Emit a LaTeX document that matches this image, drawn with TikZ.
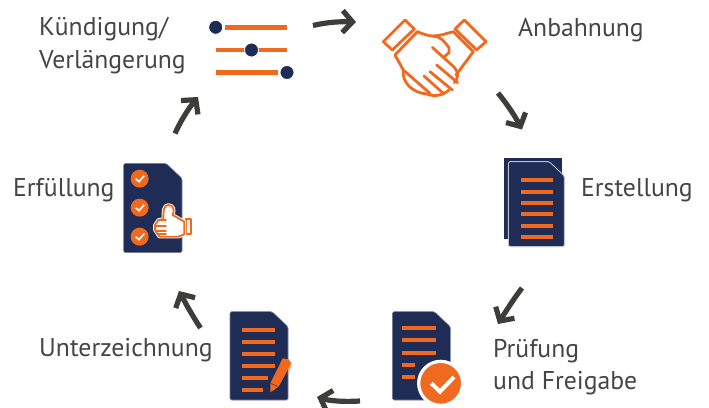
\documentclass[tikz,border=0pt]{standalone}
\usepackage{fontspec}
\setmainfont{PT Sans}
\usetikzlibrary{arrows.meta}
\definecolor{navy}{HTML}{1F2C56}
\definecolor{orng}{HTML}{F1691E}
\definecolor{ink}{HTML}{3D3D3B}
\definecolor{txt}{HTML}{454545}
\tikzset{
 lab/.style={font=\fontsize{25.7}{33}\selectfont,text=txt,inner sep=0pt,align=left},
 flow/.style={draw=ink,line width=5.2pt,-{Straight Barb[length=10pt,width=22pt,line width=5.2pt]}},
 bar/.style={draw=orng,line width=4pt},
 sbar/.style={draw=orng,line width=4.5pt},
 page/.style={fill=navy,draw=navy!60!white,line width=.6pt,rounded corners=1.5pt},
 hand/.style={draw=orng,line width=2.8pt,line join=round,line cap=round},
 thumb/.style={draw=orng,line width=1.8pt,line join=round,line cap=round},
 tick/.style={draw=white,line width=1.6pt,line cap=butt,line join=miter},
}
\begin{document}
\begin{tikzpicture}[x=1pt,y=-1pt]
\useasboundingbox (0,0) rectangle (709,407);
% labels
\node[lab,anchor=base west] (kuend) at (39,35) {Kündigung/};
\node[lab,anchor=base west] (verl) at (39,68) {Verlängerung};
\node[lab,anchor=base west] (anb) at (518,36.5) {Anbahnung};
\node[lab,anchor=base west] (erst) at (581,196.5) {Erstellung};
\node[lab,anchor=base west] (pruef) at (493,357) {Prüfung};
\node[lab,anchor=base west] (frei) at (493,389.5) {und Freigabe};
\node[lab,anchor=base west] (unter) at (39,356.5) {Unterzeichnung};
\node[lab,anchor=base west] (erfue) at (13,196.5) {Erfüllung};
% sliders
\draw[sbar] (225,27.3) -- (287,27.3);
\draw[sbar] (216,50) -- (287,50);
\draw[sbar] (216,72.5) -- (278,72.5);
\fill[navy,draw=white,line width=.8pt] (215.7,27.3) circle (7);
\fill[navy,draw=white,line width=.8pt] (251.5,50) circle (7);
\fill[navy,draw=white,line width=.8pt] (287,72.5) circle (7);
% handshake
\begin{scope}[shift={(375,10)},scale=1/3]
\draw[hand] (90,30) -- (118,57) -- (52,120) -- (25,95) -- cycle;
\draw[hand] (268,30) -- (333,95) -- (305,120) -- (240,57) -- cycle;
\draw[hand] (127,65) -- (60,135) -- (85,180) -- (165,250);
\draw[hand] (85,180) .. controls (80,215) and (110,248) .. (155,252) .. controls (180,262) and (205,255) .. (222,240);
\draw[hand] (127,65) .. controls (150,75) and (165,78) .. (175,78) .. controls (195,78) and (215,70) .. (235,65) -- (295,125) -- (243,195);
\draw[hand] (175,78) .. controls (195,80) and (205,90) .. (222,113) -- (222,128) -- (205,143);
\draw[hand] (172,112) -- (238,172) .. controls (250,185) and (252,205) .. (238,218);
\draw[hand] (185,165) -- (248,218);
\draw[hand] (165,185) -- (232,240);
\draw[hand] (147,198) -- (205,250);
\end{scope}
% Erstellung
\begin{scope}[shift={(480,90)},scale=1/3]
\fill[navy] (72,204) rectangle (245,446);
\path[page,draw=white!70!navy,line width=.9pt] (85,225) -- (85,470) -- (253,470) -- (253,258) -- (208,215) -- (85,215) -- cycle;
\foreach \y in {270,306,339,372,408,441} \draw[bar] (123,\y) -- (219,\y);
\end{scope}
% Pruefung
\begin{scope}[shift={(210,280)},scale=1/3]
\path[page] (547,95) -- (547,360) -- (721,360) -- (721,140) -- (673,95) -- cycle;
\foreach \y in {144,180,219} \draw[bar] (576,\y) -- (678,\y);
\foreach \y in {255,291} \draw[bar] (576,\y) -- (615,\y);
\fill[orng,draw=white,line width=3.2pt] (692,310) circle (66);
\draw[white,line width=4pt] (664,310) -- (690,335) -- (732,291);
\end{scope}
% Unterzeichnung
\begin{scope}[shift={(210,280)},scale=1/3]
\path[page] (60,95) -- (60,360) -- (234,360) -- (234,140) -- (186,95) -- cycle;
\foreach \y in {150,186,222,258} \draw[bar] (96,\y) -- (195,\y);
\draw[bar] (96,294) -- (174,294);
\draw[bar] (96,330) -- (159,330);
\end{scope}
\begin{scope}[shift={(262,350)},scale=1/3]
\fill[orng] (25,127) -- (25,100) -- (62,25) -- (80,28) -- (88,40) -- (50,110) -- cycle;
\draw[navy!70!orng,line width=.7pt] (25,100) -- (50,110);
\draw[orng!70!white,line width=.8pt] (88,40) -- (78,73);
\end{scope}
% Erfuellung
\begin{scope}[shift={(110,90)},scale=1/3]
\path[page] (41,220) -- (41,488) -- (216,488) -- (216,265) -- (168,220) -- cycle;
\foreach \y in {266,353,440} {
 \fill[orng] (89,\y) circle (27);
 \draw[tick] (77,\y) -- (87,\y+9) -- (103,{\y-9});
}
\end{scope}
\begin{scope}[shift={(150,195)},scale=1/3]
\draw[thumb,fill=white] (108,72) rectangle (124,118);
\draw[white,line width=3.6pt,line join=round,fill=white] (40,72) .. controls (40,50) and (40,30) .. (55,30) .. controls (70,30) and (75,45) .. (68,60) -- (103,80) -- (103,118) -- (85,125) -- (28,125) -- (15,105) -- (15,90) -- (25,75) -- cycle;
\draw[thumb,fill=white] (40,72) .. controls (40,50) and (40,30) .. (55,30) .. controls (70,30) and (75,45) .. (68,60) -- (103,80) -- (103,118) -- (85,125) -- (28,125) -- (15,105) -- (15,90) -- (25,75) -- cycle;
\draw[thumb] (15,92) -- (48,92);
\draw[thumb] (17,107) -- (48,107);
\draw[thumb] (26,118) -- (48,118);
\draw[thumb] (25,75) -- (48,75);
\end{scope}
% connector ends
\coordinate (s1) at (313,25.5); \coordinate (e1) at (356,22);
\coordinate (s2) at (498,93); \coordinate (e2) at (522,129.5);
\coordinate (s3) at (522,288); \coordinate (e3) at (498,324);
\coordinate (s4) at (360,401); \coordinate (e4) at (317,397);
\coordinate (s5) at (200.5,328); \coordinate (e5) at (179,291);
\coordinate (s6) at (175,133.5); \coordinate (e6) at (198,97);
\draw[flow] (s1) .. controls (328,22) and (340,21.5) .. (e1);
\draw[flow] (s2) .. controls (507,104) and (515,116) .. (e2);
\draw[flow] (s3) .. controls (515,297) and (506,311) .. (e3);
\draw[flow] (s4) .. controls (345,402) and (330,401) .. (e4);
\draw[flow] (s5) .. controls (192,315) and (186,304) .. (e5);
\draw[flow] (s6) .. controls (181,120) and (189,108) .. (e6);
\end{tikzpicture}
\end{document}
